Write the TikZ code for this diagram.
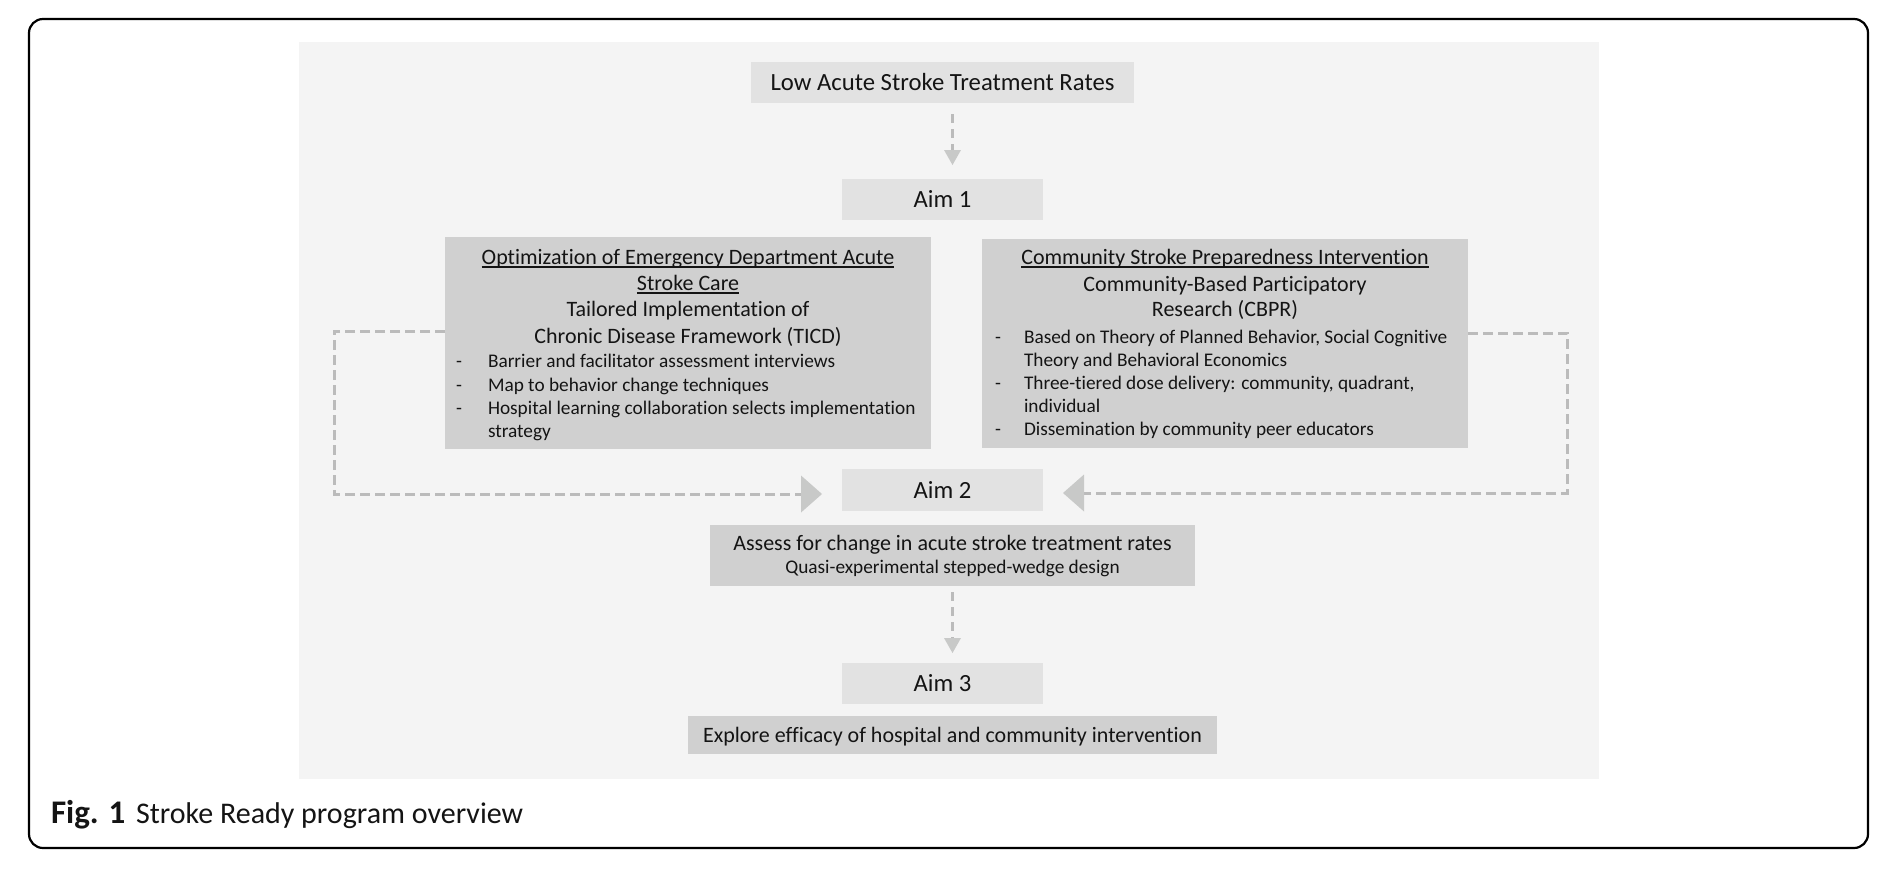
\documentclass[tikz,border=0pt]{standalone}
\usepackage{fontspec}
\setmainfont{Carlito}[Ligatures=NoCommon]
\usetikzlibrary{arrows.meta}
\definecolor{panelcol}{HTML}{F4F4F4}
\definecolor{boxlight}{HTML}{E2E2E2}
\definecolor{boxdark}{HTML}{D0D0D0}
\definecolor{dashcol}{HTML}{BBBBBB}
\definecolor{tipcol}{HTML}{C8C9C8}
\definecolor{txtcol}{HTML}{141414}
\begin{document}
\begin{tikzpicture}[x=1pt,y=-1pt,
  every node/.style={inner sep=0pt, outer sep=0pt, text=txtcol},
  lightbox/.style={fill=boxlight},
  darkbox/.style={fill=boxdark},
  bigfont/.style={font=\fontsize{24.7}{28}\selectfont, text height=16pt, text depth=0pt},
  midfont/.style={font=\fontsize{22}{26}\selectfont},
  midone/.style={midfont, text height=14.2pt, text depth=0pt},
  smallfont/.style={font=\fontsize{19.3}{23}\selectfont},
  uline/.style={draw=txtcol, line width=1.8pt},
  dashline/.style={draw=dashcol, line width=3pt, dash pattern=on 10pt off 5pt},
  htip/.style={-{Triangle[length=21pt,width=37pt,color=tipcol,line width=0pt]}},
  vdash/.style={draw=dashcol, line width=3.3pt, dash pattern=on 9pt off 6pt},
  vtip/.style={-{Triangle[length=15pt,width=17pt,color=tipcol,line width=0pt]}}
]
\useasboundingbox (0,0) rectangle (1892,876);
% outer frame and panel
\draw[line width=2.2pt, rounded corners=14pt] (29,19) rectangle (1868,848);
\fill[panelcol] (299,42) rectangle (1599,779);

% boxes
\node[lightbox, minimum width=383pt, minimum height=41pt, bigfont] (low) at (942.5,82.5) {Low Acute Stroke Treatment Rates};
\node[lightbox, minimum width=201pt, minimum height=41pt, bigfont] (aim1) at (942.5,199.5) {Aim 1};
\node[darkbox, minimum width=486pt, minimum height=212pt] (lbox) at (688,343) {};
\node[darkbox, minimum width=486pt, minimum height=209pt] (rbox) at (1225,343.5) {};
\node[lightbox, minimum width=201pt, minimum height=42pt, bigfont] (aim2) at (942.5,490) {Aim 2};
\node[darkbox, minimum width=485pt, minimum height=61pt] (assess) at (952.5,555.5) {};
\node[lightbox, minimum width=201pt, minimum height=41pt, bigfont] (aim3) at (942.5,683.5) {Aim 3};
\node[darkbox, minimum width=529pt, minimum height=38pt, midone] (explore) at (952.5,735) {Explore efficacy of hospital and community intervention};

% left box text
\node[midfont, anchor=base] (l1) at (688,264) {Optimization of Emergency Department Acute};
\node[midfont, anchor=base] (l2) at (688,290) {Stroke Care};
\node[midfont, anchor=base] (l3) at (688,316) {Tailored Implementation of};
\node[midfont, anchor=base] (l4) at (688,343) {Chronic Disease Framework (TICD)};
\draw[uline] ([yshift=-3pt]l1.base west) -- ([yshift=-3pt]l1.base east);
\draw[uline] ([yshift=-3pt]l2.base west) -- ([yshift=-3pt]l2.base east);
\node[smallfont, anchor=base west] (ld1) at (456,367) {-};
\node[smallfont, anchor=base west] (lb1) at (488,367) {Barrier and facilitator assessment interviews};
\node[smallfont, anchor=base west] (ld2) at (456,391) {-};
\node[smallfont, anchor=base west] (lb2) at (488,391) {Map to behavior change techniques};
\node[smallfont, anchor=base west] (ld3) at (456,414) {-};
\node[smallfont, anchor=base west] (lb3) at (488,414) {Hospital learning collaboration selects implementation};
\node[smallfont, anchor=base west] (lb3b) at (488,437) {strategy};

% right box text
\node[midfont, anchor=base] (r1) at (1225,264) {Community Stroke Preparedness Intervention};
\node[midfont, anchor=base] (r2) at (1225,291) {Community-Based Participatory};
\node[midfont, anchor=base] (r3) at (1225,316) {Research (CBPR)};
\draw[uline] ([yshift=-3pt]r1.base west) -- ([yshift=-3pt]r1.base east);
\node[smallfont, anchor=base west] (rd1) at (995,343) {-};
\node[smallfont, anchor=base west] (rb1) at (1024,343) {Based on Theory of Planned Behavior, Social Cognitive};
\node[smallfont, anchor=base west] (rb1b) at (1024,366) {Theory and Behavioral Economics};
\node[smallfont, anchor=base west] (rd2) at (995,389) {-};
\node[smallfont, anchor=base west] (rb2) at (1024,389) {Three-tiered dose delivery: community, quadrant,};
\node[smallfont, anchor=base west] (rb2b) at (1024,412) {individual};
\node[smallfont, anchor=base west] (rd3) at (995,435) {-};
\node[smallfont, anchor=base west] (rb3) at (1024,435) {Dissemination by community peer educators};

% assess box text
\node[midfont, anchor=base] (a1) at (952.5,550) {Assess for change in acute stroke treatment rates};
\node[smallfont, anchor=base] (a2) at (952.5,573) {Quasi-experimental stepped-wedge design};

% connectors
\draw[vdash, vtip, shorten <=11pt, shorten >=14pt] ([xshift=10pt]low.south) -- ([xshift=10pt]aim1.north);
\draw[vdash, vtip, shorten <=6pt, shorten >=10pt] (assess.south) -- (assess.south |- aim3.north);
\coordinate (lc) at (334,494);
\coordinate (rc) at (1567,493);
\draw[dashline, htip, shorten >=20pt] ([yshift=12pt]lbox.west) -| (lc) -- ([yshift=-4pt]aim2.west);
\draw[dashline, htip, shorten >=20pt] ([yshift=10.5pt]rbox.east) -| (rc) -- ([yshift=-3pt]aim2.east);

% caption
\node[anchor=base west, font=\fontsize{33}{38}\selectfont\bfseries] (fig) at (51,823) {Fig. 1};
\node[anchor=base west, font=\fontsize{30}{36}\selectfont] (captxt) at (136,823) {Stroke Ready program overview};
\end{tikzpicture}
\end{document}
